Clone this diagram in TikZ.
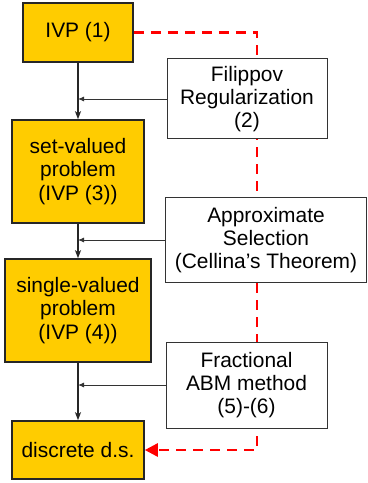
\documentclass[tikz,border=0pt]{standalone}
\usepackage{fontspec}
\setmainfont{Liberation Sans}
\usetikzlibrary{arrows.meta,backgrounds}
\definecolor{probgold}{RGB}{255,204,0}
\tikzset{
  prob/.style={draw=black!85,line width=1.6bp,fill=probgold,align=center,
    inner sep=0pt,font=\fontsize{21}{23.5}\selectfont},
  method/.style={draw=black!80,line width=1bp,fill=white,align=center,
    inner sep=0pt,font=\fontsize{21}{23.5}\selectfont},
  flow/.style={draw=black!85,line width=1.4bp,-{Stealth[length=8bp,width=6bp,inset=2bp]}},
  feed/.style={draw=black!80,line width=0.9bp,-{Latex[length=6bp,width=5bp]}},
  redlink/.style={draw=red,line width=2.6bp,dash pattern=on 10bp off 7bp,
    -{Triangle[length=13bp,width=13bp]}}
}
\begin{document}
\begin{tikzpicture}[x=1bp,y=-1bp]
\useasboundingbox (0,0) rectangle (367,483);

% problem chain
\node[prob,minimum width=110bp,minimum height=59bp] (ivp) at (78,32.5) {IVP (1)};
\node[prob,minimum width=132bp,minimum height=103bp] (setval) at (78,171.5) {set-valued\\problem\\(IVP (3))};
\node[prob,minimum width=146bp,minimum height=103bp] (singval) at (78,310.5) {single-valued\\problem\\(IVP (4))};
\node[prob,minimum width=132bp,minimum height=58bp] (discr) at (78,450) {discrete d.s.};

% methods
\node[method,minimum width=160bp,minimum height=80bp] (filip) at (247,99) {Filippov\\Regularization\\(2)};
\node[method,minimum width=201bp,minimum height=84bp] (approx) at (266,240) {Approximate\\Selection\\(Cellina’s Theorem)};
\node[method,minimum width=161bp,minimum height=86bp] (fract) at (246.5,385) {Fractional\\ABM method\\(5)-(6)};

\draw[flow] (ivp) -- (setval);
\draw[flow] (setval) -- (singval);
\draw[flow] (singval) -- (discr);

\draw[feed] (filip.west) -- (filip.west -| ivp.south);
\draw[feed] (approx.west) -- (approx.west -| ivp.south);
\draw[feed] (fract.west) -- (fract.west -| ivp.south);

\coordinate (bend) at (257,240);
\begin{pgfonlayer}{background}
\draw[redlink] (ivp.east) -| (bend) |- (discr.east);
\end{pgfonlayer}
\end{tikzpicture}
\end{document}
